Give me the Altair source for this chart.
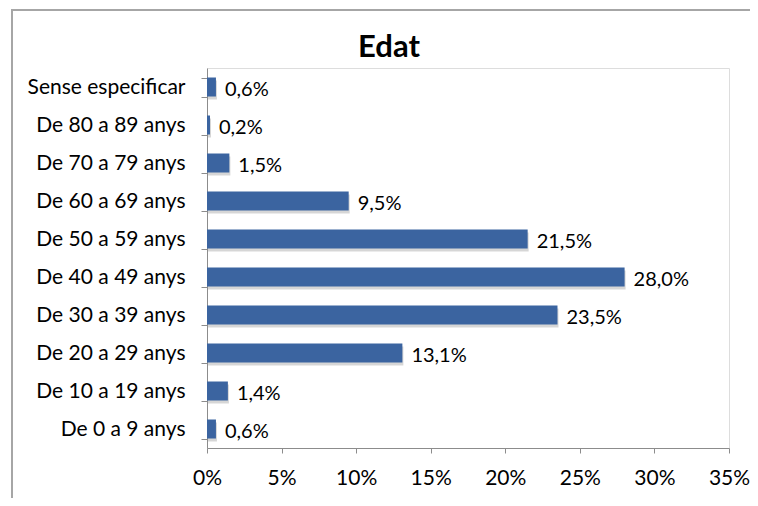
import altair as alt
import pandas as pd

categories = ["Sense especificar", "De 80 a 89 anys", "De 70 a 79 anys", "De 60 a 69 anys",
              "De 50 a 59 anys", "De 40 a 49 anys", "De 30 a 39 anys", "De 20 a 29 anys",
              "De 10 a 19 anys", "De 0 a 9 anys"]
values = [0.6, 0.2, 1.5, 9.5, 21.5, 28.0, 23.5, 13.1, 1.4, 0.6]
x_ticks = [0, 5, 10, 15, 20, 25, 30, 35]
title_text = "Edat"

df = pd.DataFrame({"cat": categories, "val": values})
df["lab"] = [f"{v:.1f}".replace(".", ",") + "%" for v in values]

FONT = "Lato"
BLUE = "#3B64A0"
GRAY = "#8C8C8C"

yenc = alt.Y("cat:N", sort=categories, title=None,
             scale=alt.Scale(paddingInner=0.5, paddingOuter=0.25),
             axis=alt.Axis(tickBand="extent", domainColor=GRAY, tickColor=GRAY, tickSize=6,
                           labelFont=FONT, labelFontSize=21, labelColor="#000",
                           labelPadding=16, labelAlign="right", grid=False))
xenc = alt.X("val:Q", title=None,
             scale=alt.Scale(domain=[0, 35], nice=False),
             axis=alt.Axis(values=x_ticks, labelExpr="datum.value + '%'", domainColor=GRAY,
                           tickColor=GRAY, tickSize=5, labelFont=FONT, labelFontSize=21,
                           labelColor="#000", labelPadding=14, labelFlush=False,
                           labelOverlap=False, grid=False))

base = alt.Chart(df)

shadow = base.mark_bar(color="#000", opacity=0.16, xOffset=1, x2Offset=3,
                       yOffset=3, y2Offset=3).encode(x=xenc, y=yenc)
bars = base.mark_bar(color=BLUE).encode(x=xenc, y=yenc)
labels = base.mark_text(align="left", baseline="middle", dx=9, dy=3, font=FONT,
                        fontSize=20, color="#000").encode(x=xenc, y=yenc, text="lab:N")

one = pd.DataFrame({"t": [title_text]})
title = alt.Chart(one).mark_text(font=FONT, fontSize=31, fontWeight="bold", color="#000",
                                 align="center", baseline="alphabetic").encode(
    x=alt.value(182), y=alt.value(-11), text="t:N")

frame_top = alt.Chart(one).mark_rule(color="#A6A6A6", strokeWidth=2).encode(
    x=alt.value(-195), x2=alt.value(560), y=alt.value(-58))
frame_left = alt.Chart(one).mark_rule(color="#A6A6A6", strokeWidth=2).encode(
    x=alt.value(-195), y=alt.value(-59), y2=alt.value(440))

chart = alt.layer(frame_top, frame_left, shadow, bars, labels, title).properties(
    width=522, height=380,
    autosize=alt.AutoSizeParams(type="none"),
    padding={"left": 199, "top": 60, "right": 21, "bottom": 50},
).configure_view(stroke=None).configure(background="white")

chart.save("out.html", embed_options={"renderer": "svg", "actions": False})
